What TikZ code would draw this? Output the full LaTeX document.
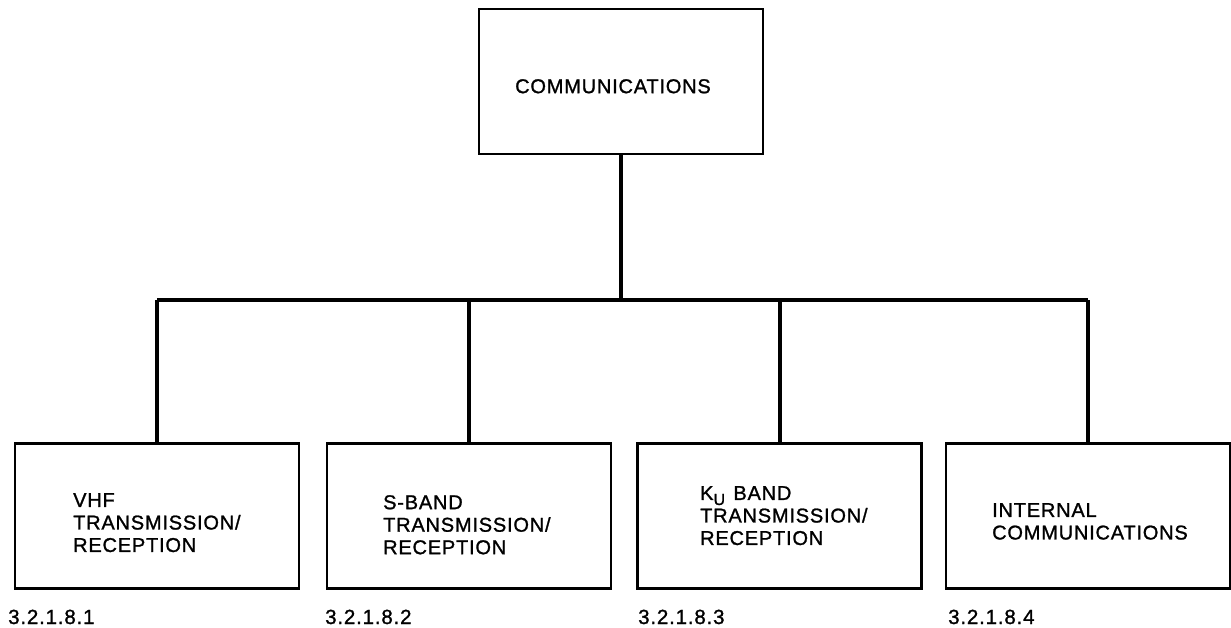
\documentclass[tikz,border=0pt]{standalone}
\usepackage{fontspec}
\setmainfont{Liberation Sans}[LetterSpace=4, FakeBold=1.2]
\begin{document}
\begin{tikzpicture}[x=1pt,y=-1pt,
  blk/.style={draw, line width=2.4pt, minimum width=284pt, minimum height=145pt, inner sep=0pt},
  conn/.style={line width=4pt},
  txt/.style={anchor=north west, inner sep=0pt, align=left,
    font=\fontsize{20}{22.5}\selectfont},
  num/.style={anchor=base west, inner sep=0pt, font=\fontsize{20.5}{22}\selectfont}]
  \useasboundingbox (0,0) rectangle (1231,627);

  % boxes of the tree
  \node[blk] (top)  at (621,81.5) {};
  \node[blk] (vhf)  at (157,516)  {};
  \node[blk] (sband) at (469,516) {};
  \node[blk] (ku)   at (779.5,516) {};
  \node[blk] (intc) at (1088,516) {};

  % box texts
  \node[txt] (ttop) at (515,79) {COMMUNICATIONS};
  \node[txt] (tvhf) at (73,493) {VHF\\TRANSMISSION/\\RECEPTION};
  \node[txt] (tsb)  at (383,495) {S-BAND\\TRANSMISSION/\\RECEPTION};
  \node[txt] (tku)  at (700,486) {K\raisebox{-5pt}{\fontsize{16}{16}\selectfont U}\hspace{2pt} BAND\\TRANSMISSION/\\RECEPTION};
  \node[txt] (tint) at (992,503) {INTERNAL\\COMMUNICATIONS};

  % paragraph numbers under the boxes
  \node[num] (nvhf) at (8,624)   {3.2.1.8.1};
  \node[num] (nsb)  at (325,624) {3.2.1.8.2};
  \node[num] (nku)  at (638,624) {3.2.1.8.3};
  \node[num] (nint) at (948,624) {3.2.1.8.4};

  % connectors
  \coordinate (bus) at (621,300);
  \draw[conn] (top.south) -- (bus);
  \draw[conn] (vhf.north |- bus) -- (intc.north |- bus);
  \foreach \b in {vhf,sband,ku,intc}
    \draw[conn] (\b.north |- bus) -- (\b.north);
\end{tikzpicture}
\end{document}
